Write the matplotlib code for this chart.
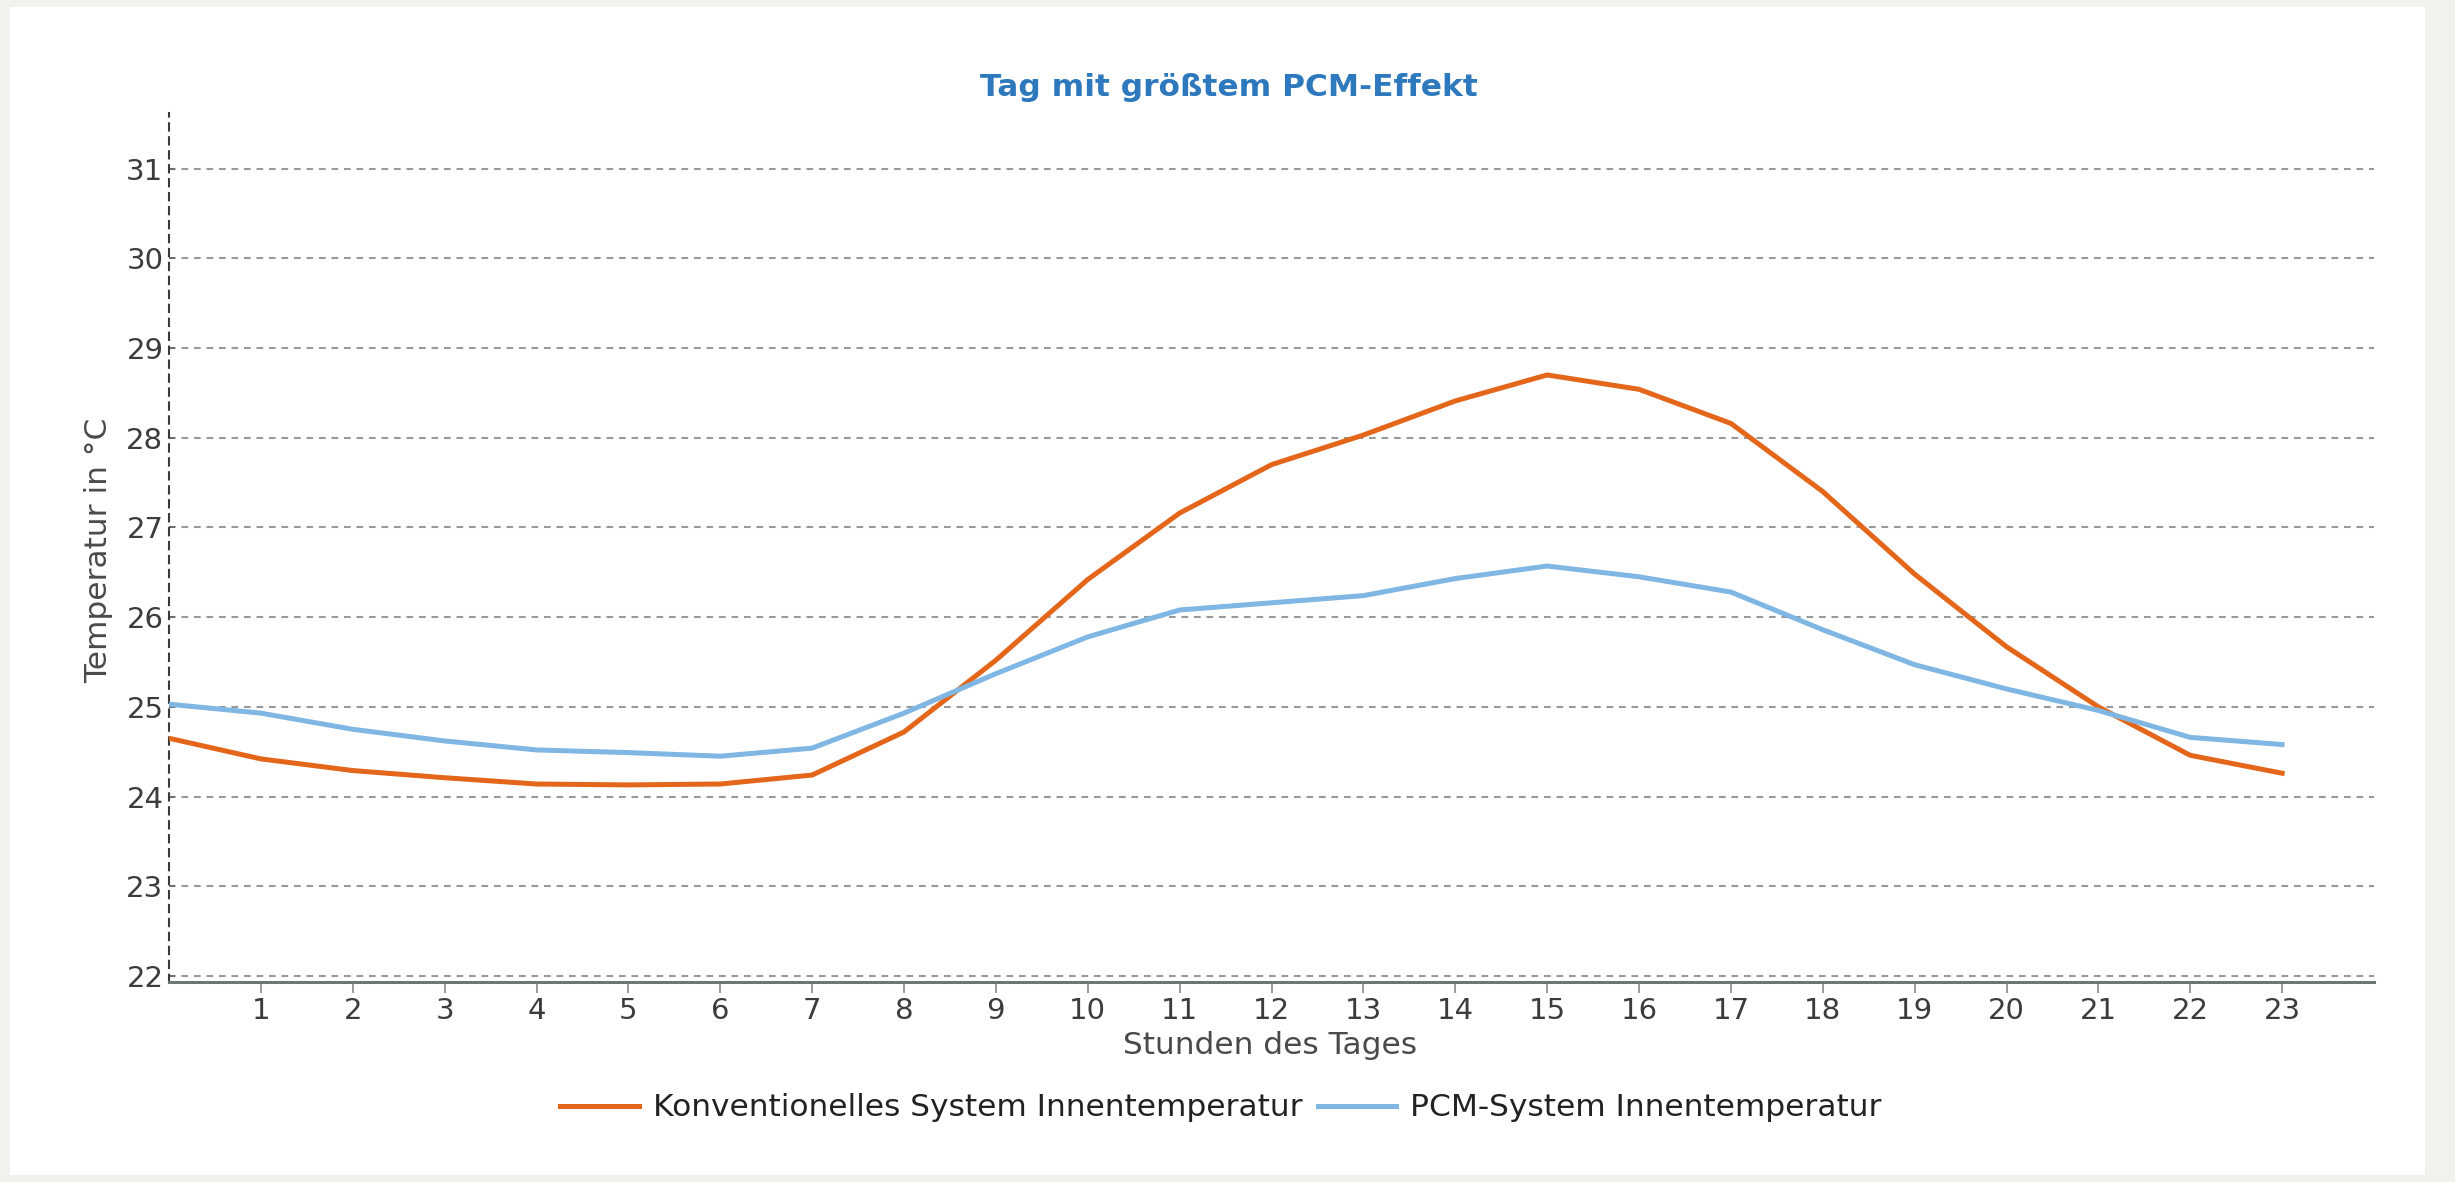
import matplotlib
matplotlib.use("Agg")
import matplotlib.pyplot as plt
from matplotlib.patches import Rectangle

hours = list(range(24))
konventionell = [24.65, 24.42, 24.29, 24.21, 24.14, 24.13, 24.14, 24.24, 24.72, 25.52, 26.42, 27.16,
                 27.70, 28.03, 28.41, 28.70, 28.54, 28.16, 27.40, 26.48, 25.67, 25.00, 24.46, 24.26]
pcm = [25.03, 24.93, 24.75, 24.62, 24.52, 24.49, 24.45, 24.54, 24.93, 25.37, 25.78, 26.08,
       26.16, 26.24, 26.43, 26.57, 26.45, 26.28, 25.86, 25.47, 25.20, 24.96, 24.66, 24.58]
x_ticks = list(range(1, 24))
y_ticks = list(range(22, 32))

W, H = 2455, 1182
fig = plt.figure(figsize=(W / 100, H / 100), dpi=100, facecolor="#f2f1ec")
fig.patches.append(Rectangle((10 / W, 7 / H), 2415 / W, 1168 / H, transform=fig.transFigure,
                             facecolor="white", edgecolor="none", zorder=-5))

ax = fig.add_axes([169 / W, 1 - 982 / H, 2205 / W, 869 / H])
ax.set_facecolor("none")
ax.set_zorder(2)

ax.plot(hours, konventionell, color="#e4661b", lw=3.6, label="Konventionelles System Innentemperatur",
        solid_joinstyle="round", zorder=3)
ax.plot(hours, pcm, color="#7fb6e3", lw=3.6, label="PCM-System Innentemperatur",
        solid_joinstyle="round", zorder=3)

ax.set_xlim(0, 24)
ax.set_ylim(21.933, 31.62)
ax.set_xticks(x_ticks)
ax.set_yticks(y_ticks)

# dashed horizontal grid, no vertical grid
ax.grid(axis="y", color="#999999", lw=1.5, linestyle=(0, (3.2, 2.8)))
ax.grid(axis="x", visible=False)

for s in ["top", "right"]:
    ax.spines[s].set_visible(False)
ax.spines["left"].set_color("#3a3a3a")
ax.spines["left"].set_linewidth(1.5)
ax.spines["left"].set_linestyle((0, (3.5, 3.2)))
ax.spines["bottom"].set_color("#6d7575")
ax.spines["bottom"].set_linewidth(2.2)

ax.tick_params(axis="x", direction="out", length=8, width=1.2, color="#888888",
               labelsize=21, labelcolor="#3c3c3c", pad=3)
ax.tick_params(axis="y", direction="in", length=4, width=1.2, color="#666666",
               labelsize=21, labelcolor="#3c3c3c", pad=4)

fig.text(1229 / W, 1 - 87 / H, "Tag mit größtem PCM-Effekt", ha="center", va="center",
         fontsize=22.5, fontweight="bold", color="#2e78bd")
fig.text(1270 / W, 1 - 1046 / H, "Stunden des Tages", ha="center", va="center",
         fontsize=22.5, color="#4a4a4a")
fig.text(99 / W, 1 - 550 / H, "Temperatur in °C", ha="center", va="center", rotation=90,
         fontsize=22.5, color="#4a4a4a")

fig.legend(loc="center", bbox_to_anchor=(1221 / W, 1 - 1108 / H), ncol=2, frameon=False,
           fontsize=22.5, handlelength=2.5, handletextpad=0.45, columnspacing=0.5,
           labelcolor="#222222")

fig.savefig("out.png", dpi=100, facecolor=fig.get_facecolor())
